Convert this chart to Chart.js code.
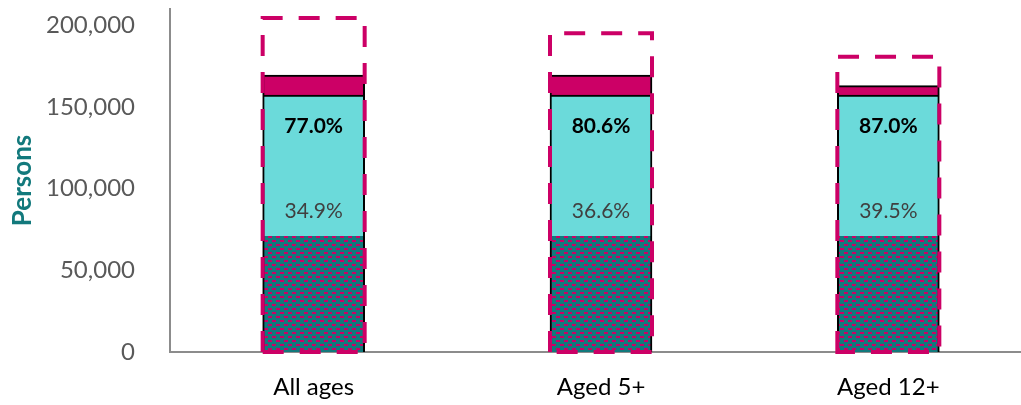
<!DOCTYPE html>
<html>
<head>
<meta charset="utf-8">
<script src="https://cdn.jsdelivr.net/npm/chart.js@4.4.1/dist/chart.umd.min.js"></script>
<style>
  html,body{margin:0;padding:0;background:#fff;overflow:hidden}
  #wrap{position:relative;width:1032px;height:405px}
</style>
</head>
<body>
<div id="wrap"><canvas id="chart"></canvas></div>
<script>
// ---------- data ----------
const categories = ['All ages', 'Aged 5+', 'Aged 12+'];
const fullyVaccinated = [71000, 71000, 71000];
const firstDoseOnly = [86300, 86300, 86300];
const topSegment = [12300, 12300, 5800];
const population = [204500, 195200, 180800];
const firstDoseLabels = ['77.0%', '80.6%', '87.0%'];
const fullyLabels = ['34.9%', '36.6%', '39.5%'];
const yTicks = [0, 50000, 100000, 150000, 200000];

const TEAL = '#12797c', PINK = '#cc0066', CYAN = '#6bdada';
const FONT = 'Lato, "Open Sans", sans-serif';

// teal fill with little pink dashes (brick layout)
function brickPattern(ctx){
  const c = document.createElement('canvas'); c.width = 8; c.height = 8;
  const g = c.getContext('2d');
  g.fillStyle = TEAL; g.fillRect(0, 0, 8, 8);
  g.fillStyle = PINK; g.fillRect(0, 0, 4, 2); g.fillRect(4, 4, 4, 2);
  return ctx.createPattern(c, 'repeat');
}

// dashed population outline + percentage labels
const overlay = {
  id: 'overlay',
  afterDatasetsDraw(chart){
    const ctx = chart.ctx;
    ctx.save();
    ctx.strokeStyle = PINK; ctx.lineWidth = 4; ctx.setLineDash([21, 16]);
    chart.getDatasetMeta(3).data.forEach(b => {
      const l = b.x - b.width/2, r = b.x + b.width/2;
      ctx.beginPath();
      ctx.moveTo(l, b.base); ctx.lineTo(l, b.y); ctx.lineTo(r, b.y); ctx.lineTo(r, b.base);
      ctx.closePath(); ctx.stroke();
    });
    ctx.setLineDash([]);
    ctx.textAlign = 'center'; ctx.textBaseline = 'middle';
    chart.getDatasetMeta(1).data.forEach((b, i) => {
      ctx.font = 'bold 21px ' + FONT; ctx.fillStyle = '#000';
      ctx.fillText(firstDoseLabels[i], b.x, b.y + 31);
    });
    chart.getDatasetMeta(0).data.forEach((b, i) => {
      ctx.font = '21px ' + FONT; ctx.fillStyle = '#404040';
      ctx.fillText(fullyLabels[i], b.x, b.y - 25);
    });
    ctx.restore();
  }
};

const ctx = document.getElementById('chart').getContext('2d');
new Chart(ctx, {
  type: 'bar',
  data: {
    labels: categories,
    datasets: [
      {label:'Fully vaccinated', data:fullyVaccinated, stack:'a', barThickness:102,
       backgroundColor:brickPattern(ctx), borderColor:'#000', borderWidth:{left:2,right:2,top:0,bottom:0}},
      {label:'First dose', data:firstDoseOnly, stack:'a', barThickness:102,
       backgroundColor:CYAN, borderColor:'#000', borderWidth:{left:2,right:2,top:2,bottom:0}},
      {label:'Other', data:topSegment, stack:'a', barThickness:102,
       backgroundColor:PINK, borderColor:'#000', borderWidth:2},
      {label:'Population', data:population, stack:'b', grouped:false, barThickness:102,
       backgroundColor:'rgba(0,0,0,0)', borderWidth:0}
    ]
  },
  options: {
    responsive:true, maintainAspectRatio:false, animation:false,
    layout:{padding:{top:9,left:0,right:0,bottom:0}},
    plugins:{legend:{display:false}, tooltip:{enabled:false}},
    scales:{
      x:{
        grid:{display:false}, border:{color:'#8c8c8c',width:2},
        ticks:{font:{family:FONT,size:24}, color:'#000', padding:13},
        afterFit:s=>{ s.height = 53; }
      },
      y:{
        stacked:true, min:0, max:210000,
        afterBuildTicks:s=>{ s.ticks = yTicks.map(v=>({value:v})); },
        grid:{display:false}, border:{color:'#8c8c8c',width:2},
        ticks:{font:{family:FONT,size:24}, color:'#595959', padding:27,
               callback:v=>Number(v).toLocaleString('en-US')},
        title:{display:true, text:'Persons', color:TEAL,
               font:{family:FONT,size:26,weight:'bold'}, padding:{top:7,bottom:0}},
        afterFit:s=>{ s.width = 170; s.paddingTop = 0; s.paddingBottom = 0; }
      }
    }
  },
  plugins:[overlay]
});
</script>
</body>
</html>
